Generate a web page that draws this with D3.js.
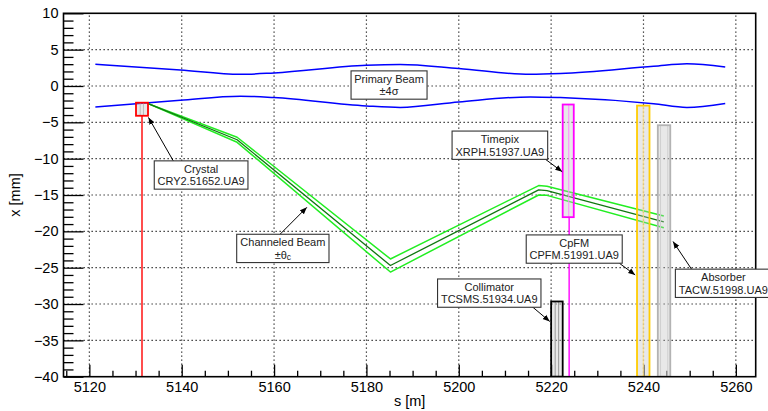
<!DOCTYPE html>
<html><head><meta charset="utf-8">
<script src="https://cdn.jsdelivr.net/npm/d3@7"></script>
<style>
html,body{margin:0;padding:0;background:#fff;}
svg{display:block;font-family:"Liberation Sans",Arial,Helvetica,sans-serif;}
</style></head>
<body>
<svg id="c" width="768" height="411"></svg>
<script>
// ---------- data ----------
const primaryS     = [5121.3, 5139.7, 5152.7, 5160.0, 5180.0, 5187.3, 5200.0, 5215.5, 5222.0, 5242.2, 5249.4, 5257.7];
const primaryUpper = [3.0, 2.2, 1.6, 1.8, 2.85, 2.95, 2.4, 1.6, 1.7, 2.7, 3.05, 2.6];
const primaryLower = [-2.9, -1.95, -1.4, -1.6, -2.75, -2.95, -2.2, -1.5, -1.6, -2.45, -2.95, -2.4];

const chanS       = [5132.6, 5152.0, 5185.2, 5217.3, 5219.1, 5244.4];
const chanCentral = [-2.4, -7.4, -24.7, -14.3, -14.4, -18.7];
const chanUpper   = [-2.4, -7.05, -23.8, -13.7, -13.8, -17.9];
const chanLower   = [-2.4, -7.75, -25.6, -15.0, -15.05, -19.5];

const elemNames  = ["Crystal", "Collimator", "Timepix", "CpFM", "Absorber"];
const elemS0     = [5130.1, 5220.0, 5222.5, 5238.6, 5243.1];
const elemS1     = [5132.7, 5222.5, 5224.9, 5241.3, 5245.8];
const elemTop    = [-2.3, -29.65, -2.55, -2.7, -5.4];
const elemBottom = [-4.1, -40, -18.05, -40, -40];
const elemColor  = ["#ff0000", "#000000", "#ff00ff", "#ffcc00", "#b3b3b3"];
const elemInner  = [[0.35, 0.62], [0.35, 0.65], [0.55], [0.5], [0.22, 0.8]];
const elemInnerColor = ["#bbbbbb", "#999999", "#ff88ff", "#ffe080", "#cfcfcf"];

const stemS     = [5131.4, 5223.9];
const stemTop   = [-4.1, -18.05];
const stemColor = ["#ff0000", "#ff00ff"];

const labelLine1 = ["Primary Beam", "Crystal", "Channeled Beam", "Timepix", "CpFM", "Collimator", "Absorber"];
const labelLine2 = ["±4σ", "CRY2.51652.UA9", "±θ|c", "XRPH.51937.UA9", "CPFM.51991.UA9", "TCSMS.51934.UA9", "TACW.51998.UA9"];
const labelS     = [5184.9, 5144.2, 5161.9, 5208.9, 5225.0, 5206.6, 5257.3];
const labelX     = [0.13, -12.25, -22.35, -8.15, -22.44, -28.5, -27.15];
const labelW     = [76, 93.7, 92.3, 95.6, 96, 103.4, 96];
const arrowFromS = [null, 5138.2, 5161.3, 5218.8, 5234.8, 5215.4, 5250.4];
const arrowFromX = [null, -10.33, -20.4, -10.1, -24.4, -30.1, -25.2];
const arrowToS   = [null, 5132.8, 5167.1, 5222.4, 5238.2, 5219.7, 5246.4];
const arrowToX   = [null, -4.33, -16.7, -11.8, -26.0, -32.4, -21.4];

const xMajor = [5120, 5140, 5160, 5180, 5200, 5220, 5240, 5260];
const yMajor = [-40, -35, -30, -25, -20, -15, -10, -5, 0, 5, 10];

// ---------- layout ----------
const svg = d3.select("#c");
const L = 63.5, R = 755.7, T = 13.3, B = 376.7;
const xs = d3.scaleLinear().domain([5114.4, 5264.3]).range([L, R]);
const ys = d3.scaleLinear().domain([-40, 10]).range([B, T]);

svg.append("defs").append("clipPath").attr("id", "clip")
  .append("rect").attr("x", L).attr("y", T).attr("width", R - L).attr("height", B - T);

// grid
const grid = svg.append("g").attr("stroke", "#222").attr("stroke-width", 1.2).attr("stroke-dasharray", "1.3,2.7");
xMajor.forEach(v => grid.append("line").attr("x1", xs(v)).attr("x2", xs(v)).attr("y1", B).attr("y2", T));
yMajor.filter(v => v > -40 && v < 10).forEach(v => grid.append("line").attr("x1", L).attr("x2", R).attr("y1", ys(v)).attr("y2", ys(v)));

// axes (ticks inside frame)
const xMinor = d3.range(5115, 5265, 5).filter(v => !xMajor.includes(v));
const yMinor = d3.range(-40, 11, 1).filter(v => !yMajor.includes(v));
const xAxis = d3.axisBottom(xs).tickValues(xMajor).tickSize(-12).tickPadding(0).tickFormat(d3.format("d"));
const gx = svg.append("g").attr("transform", `translate(0,${B})`).call(xAxis);
gx.select(".domain").remove();
gx.selectAll("line").attr("stroke", "#000").attr("stroke-width", 1.3);
gx.selectAll("text").attr("font-size", 14.5).attr("fill", "#000").attr("y", 15).attr("dy", 0);
const gxm = svg.append("g").attr("transform", `translate(0,${B})`).call(d3.axisBottom(xs).tickValues(xMinor).tickSize(-6).tickFormat(""));
gxm.select(".domain").remove();
gxm.selectAll("line").attr("stroke", "#000").attr("stroke-width", 1.3);

const yAxis = d3.axisLeft(ys).tickValues(yMajor).tickSize(-20).tickPadding(5).tickFormat(d3.format("d"));
const gy = svg.append("g").attr("transform", `translate(${L},0)`).call(yAxis);
gy.select(".domain").remove();
gy.selectAll("line").attr("stroke", "#000").attr("stroke-width", 1.3);
gy.selectAll("text").attr("font-size", 14.5).attr("fill", "#000");
const gym = svg.append("g").attr("transform", `translate(${L},0)`).call(d3.axisLeft(ys).tickValues(yMinor).tickSize(-10).tickFormat(""));
gym.select(".domain").remove();
gym.selectAll("line").attr("stroke", "#000").attr("stroke-width", 1.3);

// axis titles
svg.append("text").attr("x", (L + R) / 2).attr("y", 406).attr("text-anchor", "middle")
  .attr("font-size", 14.5).text("s [m]");
svg.append("text").attr("transform", `translate(20,${(T + B) / 2}) rotate(-90)`).attr("text-anchor", "middle")
  .attr("font-size", 14.5).text("x [mm]");

const plot = svg.append("g").attr("clip-path", "url(#clip)");

// primary beam
const lineP = d3.line().x(d => xs(d[0])).y(d => ys(d[1])).curve(d3.curveMonotoneX);
[primaryUpper, primaryLower].forEach(arr => {
  plot.append("path").datum(primaryS.map((s, i) => [s, arr[i]]))
    .attr("d", lineP).attr("fill", "none").attr("stroke", "#0000ff").attr("stroke-width", 1.5);
});

// channeled beam
const lineC = d3.line().x(d => xs(d[0])).y(d => ys(d[1]));
[[chanUpper, "#22ee22", 1.5], [chanLower, "#22ee22", 1.5], [chanCentral, "#117711", 1.3]].forEach(([arr, col, w]) => {
  plot.append("path").datum(chanS.map((s, i) => [s, arr[i]]))
    .attr("d", lineC).attr("fill", "none").attr("stroke", col).attr("stroke-width", w)
    .attr("stroke-linejoin", "round");
});

// stems
stemS.forEach((s, i) => {
  plot.append("line").attr("x1", xs(s)).attr("x2", xs(s)).attr("y1", ys(stemTop[i])).attr("y2", ys(-40))
    .attr("stroke", stemColor[i]).attr("stroke-width", 1.4);
});

// element boxes
elemNames.forEach((n, i) => {
  const x0 = xs(elemS0[i]), x1 = xs(elemS1[i]), y0 = ys(elemTop[i]), y1 = ys(elemBottom[i]);
  plot.append("rect").attr("x", x0).attr("y", y0).attr("width", x1 - x0).attr("height", y1 - y0)
    .attr("fill", "rgba(190,190,190,0.35)");
  elemInner[i].forEach(f => {
    const xx = x0 + f * (x1 - x0);
    plot.append("line").attr("x1", xx).attr("x2", xx).attr("y1", y0).attr("y2", y1)
      .attr("stroke", elemInnerColor[i]).attr("stroke-width", 1);
  });
  plot.append("rect").attr("x", x0).attr("y", y0).attr("width", x1 - x0).attr("height", y1 - y0)
    .attr("fill", "none").attr("stroke", elemColor[i]).attr("stroke-width", 1.8);
});

// frame
svg.append("rect").attr("x", L).attr("y", T).attr("width", R - L).attr("height", B - T)
  .attr("fill", "none").attr("stroke", "#000").attr("stroke-width", 1.6);

// arrows
svg.append("defs").append("marker").attr("id", "ah").attr("viewBox", "0 0 10 10")
  .attr("refX", 10).attr("refY", 5).attr("markerWidth", 7).attr("markerHeight", 7)
  .attr("markerUnits", "userSpaceOnUse").attr("orient", "auto")
  .append("path").attr("d", "M0,1 L10,5 L0,9 Z").attr("fill", "#000");

labelLine1.forEach((t, i) => {
  if (arrowFromS[i] !== null) {
    svg.append("line").attr("x1", xs(arrowFromS[i])).attr("y1", ys(arrowFromX[i]))
      .attr("x2", xs(arrowToS[i])).attr("y2", ys(arrowToX[i]))
      .attr("stroke", "#000").attr("stroke-width", 1).attr("marker-end", "url(#ah)");
  }
});

// labels
labelLine1.forEach((t, i) => {
  const cx = xs(labelS[i]), cy = ys(labelX[i]), w = labelW[i], h = 28.3;
  const g = svg.append("g");
  g.append("rect").attr("x", cx - w / 2).attr("y", cy - h / 2).attr("width", w).attr("height", h)
    .attr("fill", "#fff").attr("stroke", "#333").attr("stroke-width", 1.1);
  g.append("text").attr("x", cx).attr("y", cy - 2.3).attr("text-anchor", "middle")
    .attr("font-size", 11).attr("fill", "#222").text(t);
  const t2 = g.append("text").attr("x", cx).attr("y", cy + 10.3).attr("text-anchor", "middle")
    .attr("font-size", 11).attr("fill", "#222");
  const parts = labelLine2[i].split("|");
  t2.append("tspan").text(parts[0]);
  if (parts[1]) t2.append("tspan").attr("font-size", 8.5).attr("dy", 1.5).text(parts[1]);
});
</script>
</body></html>
